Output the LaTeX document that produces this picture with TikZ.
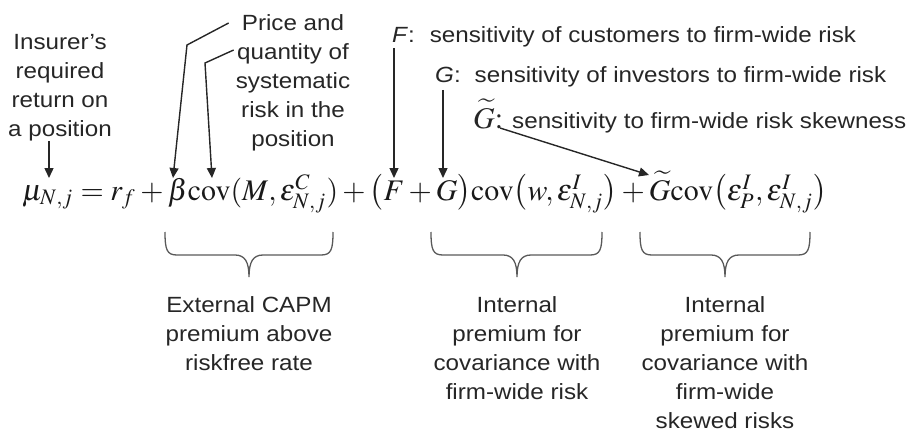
\documentclass[tikz,border=0pt]{standalone}
\usepackage{mathptmx}
\usepackage[no-math]{fontspec}
\setmainfont{Liberation Sans}[FakeStretch=1.1]
\usepackage{graphicx}
\usetikzlibrary{arrows.meta,positioning}

\tikzset{
  txt/.style={font=\fontsize{22}{29}\selectfont, text=black!85, inner sep=0pt, align=center},
  arr/.style={-{Triangle[length=10pt,width=9pt]}, line width=1.4pt, black!85},
  brc/.style={line width=1.3pt, black!65},
}

\begin{document}
\begin{tikzpicture}[x=1pt, y=-1pt]
\useasboundingbox (0,0) rectangle (906,431);

% Equation
\node[anchor=base west, inner sep=0pt, text=black!90] (eq) at (22,200)
  {\resizebox{805pt}{!}{$\mu_{N,j}=r_f+\beta\mathrm{cov}(M,\varepsilon^{C}_{N,j})+\bigl(F+G\bigr)\mathrm{cov}\bigl(w,\varepsilon^{I}_{N,j}\bigr)+\widetilde{G}\mathrm{cov}\bigl(\varepsilon^{I}_{P},\varepsilon^{I}_{N,j}\bigr)$}};

% Arrow tips on the equation
\coordinate (muTip) at (49,178);
\coordinate (betaTip) at (173,178);
\coordinate (covTip) at (212,178);
\coordinate (fTip) at (394,178);
\coordinate (gTip) at (443,178);
\coordinate (gtTip) at (649,175);

% Labels above
\node[txt, anchor=north] (ins) at (60,34) {Insurer’s\\required\\return on\\a position};
\node[txt, anchor=north] (price) at (293,14) {Price and\\quantity of\\systematic\\risk in the\\position};
\node[txt, anchor=base west] (flab) at (392,42) {\textit{F}:\hspace{15pt}sensitivity of customers to firm-wide risk};
\node[txt, anchor=base west] (glab) at (435,82) {\textit{G}:\hspace{14pt}sensitivity of investors to firm-wide risk};
\node[txt, anchor=base west] (gtlab) at (473,128) {{\fontsize{30}{30}\selectfont$\widetilde{G}{:}$}\hspace{9pt}sensitivity to firm-wide risk skewness};

% Arrows
\draw[arr] (ins.south -| muTip) -- (muTip);
\draw[arr] ([shift={(-7pt,-9pt)}]price.north west) -- (187,45) -- (betaTip);
\draw[arr] ([shift={(-2pt,-36pt)}]price.north west) -- (205,63) -- (covTip);
\draw[arr] ([xshift=2pt,yshift=-1pt]flab.south west) -- (fTip);
\draw[arr] ([xshift=8pt,yshift=-3pt]glab.south west) -- (gTip);
\draw[arr] ([xshift=27pt]gtlab.base west) -- (gtTip);

% Braces
\draw[brc] (165,232) .. controls (165,250) and (167,255) .. (177,255) -- (235,255) .. controls (245,255) and (249,262) .. (249,277) .. controls (249,262) and (253,255) .. (263,255) -- (321,255) .. controls (331,255) and (333,250) .. (333,232);
\draw[brc] (431,232) .. controls (431,250) and (433,255) .. (443,255) -- (503,255) .. controls (513,255) and (517,262) .. (517,277) .. controls (517,262) and (521,255) .. (531,255) -- (590,255) .. controls (600,255) and (602,250) .. (602,232);
\draw[brc] (640,232) .. controls (640,250) and (642,255) .. (652,255) -- (711,255) .. controls (721,255) and (725,262) .. (725,277) .. controls (725,262) and (729,255) .. (739,255) -- (798,255) .. controls (808,255) and (810,250) .. (810,232);
\coordinate (tip1) at (249,277);
\coordinate (tip2) at (517,277);
\coordinate (tip3) at (725,277);

% Labels below
\node[txt, below=19pt of tip1] (ext) {External CAPM\\premium above\\riskfree rate};
\node[txt, below=19pt of tip2] (intA) {Internal\\premium for\\covariance with\\firm-wide risk};
\node[txt, below=19pt of tip3] (intB) {Internal\\premium for\\covariance with\\firm-wide\\skewed risks};
\end{tikzpicture}
\end{document}
